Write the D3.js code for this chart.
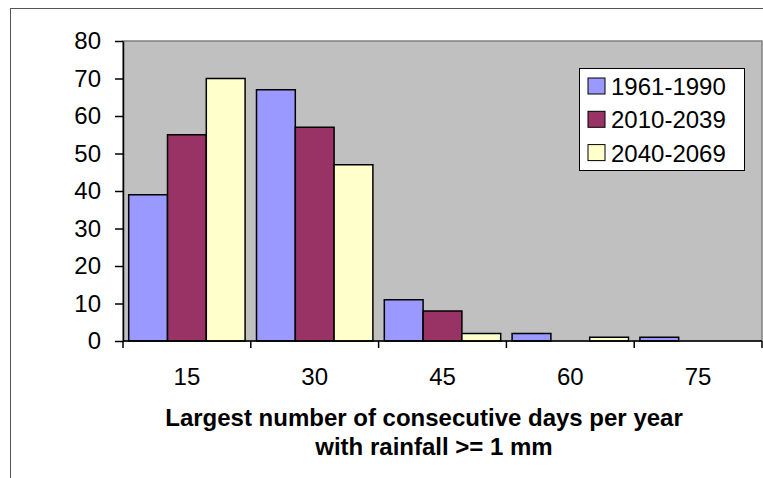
<!DOCTYPE html>
<html>
<head>
<meta charset="utf-8">
<script src="https://cdn.jsdelivr.net/npm/d3@7"></script>
<style>
  html, body { margin: 0; padding: 0; background: #fff; overflow: hidden; }
  svg { display: block; }
  text { font-family: "Liberation Sans", Arial, sans-serif; fill: #000; }
</style>
</head>
<body>
<svg id="chart" width="763" height="478"></svg>
<script>
// Consecutive-wet-day classes (days) and the three periods
const categories = ["15", "30", "45", "60", "75"];
const seriesNames = ["1961-1990", "2010-2039", "2040-2069"];
const values1961 = [39, 67, 11, 2, 1];
const values2010 = [55, 57, 8, 0, 0];
const values2040 = [70, 47, 2, 1, 0];
const yTicks = [0, 10, 20, 30, 40, 50, 60, 70, 80];
const titleLines = ["Largest number of consecutive days per year", "with rainfall >= 1 mm"];

const seriesValues = [values1961, values2010, values2040];
const colors = ["#9999ff", "#993366", "#ffffcc"];
const fontSize = 24;

const svg = d3.select("#chart");
const plot = { left: 123, right: 762, top: 41, bottom: 341 };

// Outer chart frame
svg.append("rect")
  .attr("x", 10.5).attr("y", 8.5)
  .attr("width", 800).attr("height", 520)
  .attr("fill", "#fff").attr("stroke", "#555").attr("stroke-width", 1);

// Plot area background
svg.append("rect")
  .attr("x", plot.left).attr("y", plot.top)
  .attr("width", plot.right - plot.left).attr("height", plot.bottom - plot.top)
  .attr("fill", "#c0c0c0").attr("stroke", "#808080").attr("stroke-width", 1.5);

const x = d3.scaleBand().domain(categories).range([plot.left, plot.right]).paddingInner(0).paddingOuter(0);
const xs = d3.scaleBand().domain(seriesNames).range([0, x.bandwidth()]).paddingInner(0).paddingOuter(0.147);
const y = d3.scaleLinear().domain([0, 80]).range([plot.bottom, plot.top]);

// Bars
const rows = [];
categories.forEach((c, i) => seriesNames.forEach((s, j) => rows.push({ c, s, j, v: seriesValues[j][i] })));
svg.append("g").selectAll("rect")
  .data(rows.filter(d => d.v > 0))
  .join("rect")
  .attr("x", d => x(d.c) + xs(d.s))
  .attr("y", d => y(d.v))
  .attr("width", xs.bandwidth())
  .attr("height", d => y(0) - y(d.v))
  .attr("fill", d => colors[d.j])
  .attr("stroke", "#000")
  .attr("stroke-width", 1.5);

// Y axis
const yAxis = svg.append("g")
  .attr("transform", `translate(${plot.left},0)`)
  .call(d3.axisLeft(y).tickValues(yTicks).tickSize(8).tickSizeOuter(0).tickPadding(14));
yAxis.select(".domain").attr("stroke", "#000").attr("stroke-width", 1.5);
yAxis.selectAll(".tick line").attr("stroke", "#000").attr("stroke-width", 1.5);
yAxis.selectAll(".tick text").attr("font-size", fontSize).attr("font-family", "Liberation Sans, Arial, sans-serif");

// X axis: ticks on category boundaries, labels at category centres
const xAxis = svg.append("g").attr("transform", `translate(0,${plot.bottom})`);
xAxis.append("line")
  .attr("x1", plot.left).attr("x2", plot.right)
  .attr("stroke", "#000").attr("stroke-width", 1.5);
const boundaries = categories.map(c => x(c)).concat([x(categories[categories.length - 1]) + x.bandwidth()]);
xAxis.selectAll("line.tick").data(boundaries).join("line")
  .attr("class", "tick")
  .attr("x1", d => d).attr("x2", d => d).attr("y1", 0).attr("y2", 7)
  .attr("stroke", "#000").attr("stroke-width", 1.5);
xAxis.selectAll("text").data(categories).join("text")
  .attr("x", d => x(d) + x.bandwidth() / 2)
  .attr("y", 44)
  .attr("text-anchor", "middle")
  .attr("font-size", fontSize)
  .text(d => d);

// Axis title
svg.append("text")
  .attr("x", 424).attr("y", 426)
  .attr("text-anchor", "middle").attr("font-size", fontSize).attr("font-weight", "bold")
  .text(titleLines[0]);
svg.append("text")
  .attr("x", 434).attr("y", 455)
  .attr("text-anchor", "middle").attr("font-size", fontSize).attr("font-weight", "bold")
  .text(titleLines[1]);

// Legend
const legend = svg.append("g");
legend.append("rect")
  .attr("x", 579.5).attr("y", 68.5).attr("width", 165).attr("height", 102)
  .attr("fill", "#fff").attr("stroke", "#000").attr("stroke-width", 1);
const item = legend.selectAll("g.item").data(seriesNames).join("g")
  .attr("class", "item")
  .attr("transform", (d, i) => `translate(0,${95 + i * 33.3})`);
item.append("rect")
  .attr("x", 588).attr("y", -17).attr("width", 17).attr("height", 16)
  .attr("fill", (d, i) => colors[i]).attr("stroke", "#000").attr("stroke-width", 1);
item.append("text")
  .attr("x", 611).attr("y", 0)
  .attr("font-size", fontSize)
  .text(d => d);
</script>
</body>
</html>
